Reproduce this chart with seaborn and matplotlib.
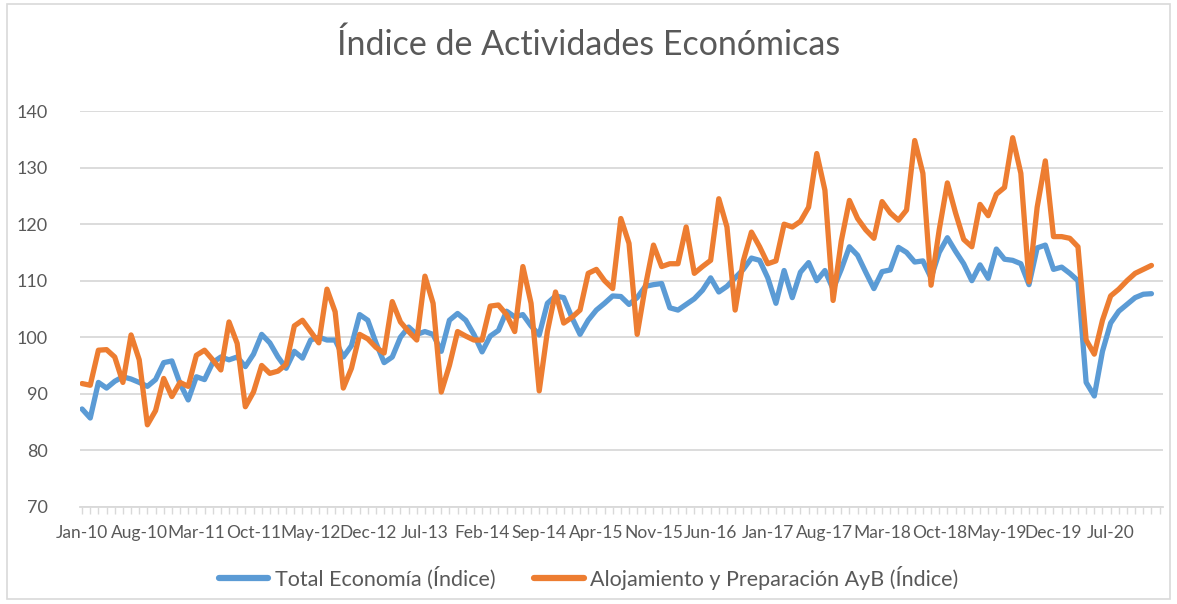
import numpy as np
import pandas as pd
import matplotlib
matplotlib.use("Agg")
import matplotlib.pyplot as plt
import seaborn as sns

# DATA (monthly, Jan-10 .. Dec-20)
meses = pd.date_range("2010-01-01", periods=132, freq="MS")

total_economia = [
    87.3, 85.7, 92.0, 91.0, 92.2, 93.0, 92.6, 92.0, 91.3, 92.5, 95.5, 95.8,
    91.8, 88.9, 93.0, 92.5, 95.5, 96.5, 96.0, 96.5, 94.8, 97.0, 100.5, 99.0,
    96.5, 94.5, 97.5, 96.3, 99.5, 100.0, 99.5, 99.5, 96.5, 98.5, 104.0, 103.0,
    99.0, 95.5, 96.5, 100.0, 101.8, 100.5, 101.0, 100.5, 97.5, 103.0, 104.2, 103.0,
    100.5, 97.4, 100.2, 101.2, 104.6, 103.6, 104.0, 102.0, 100.4, 106.0, 107.3, 107.0,
    103.5, 100.5, 103.0, 104.8, 106.0, 107.3, 107.2, 105.8, 107.0, 109.0, 109.3, 109.5,
    105.2, 104.8, 105.8, 106.8, 108.3, 110.5, 108.0, 109.0, 110.5, 112.0, 114.0, 113.6,
    110.5, 106.0, 111.8, 107.0, 111.5, 113.2, 110.0, 111.8, 108.5, 112.0, 116.0, 114.5,
    111.5, 108.6, 111.6, 111.9, 115.9, 115.0, 113.3, 113.5, 110.5, 115.0, 117.6, 115.2,
    113.0, 110.0, 112.8, 110.4, 115.6, 113.8, 113.6, 113.0, 109.3, 115.8, 116.3, 112.0,
    112.4, 111.3, 110.0, 92.0, 89.6, 97.5, 102.5, 104.6, 105.8, 107.0, 107.6, 107.7,
]

alojamiento = [
    91.8, 91.5, 97.7, 97.8, 96.5, 92.0, 100.4, 96.0, 84.5, 87.0, 92.7, 89.5,
    92.0, 91.3, 96.8, 97.7, 96.0, 94.2, 102.7, 98.9, 87.7, 90.3, 95.0, 93.6,
    94.0, 95.2, 102.0, 103.0, 101.0, 99.0, 108.5, 104.5, 91.0, 94.5, 100.5, 99.7,
    98.2, 97.2, 106.3, 102.7, 101.0, 99.5, 110.8, 106.0, 90.3, 95.0, 101.0, 100.2,
    99.5, 99.5, 105.5, 105.7, 104.0, 101.0, 112.5, 106.0, 90.5, 101.0, 108.0, 102.5,
    103.5, 104.8, 111.3, 112.0, 110.0, 108.6, 121.0, 116.6, 100.5, 109.0, 116.3, 112.5,
    113.0, 113.0, 119.5, 111.3, 112.5, 113.6, 124.5, 119.5, 104.8, 113.5, 118.6, 116.0,
    113.0, 113.5, 120.0, 119.5, 120.5, 123.0, 132.5, 126.0, 106.5, 117.0, 124.2, 121.0,
    119.0, 117.5, 124.0, 122.0, 120.7, 122.5, 134.8, 129.0, 109.2, 119.0, 127.3, 122.0,
    117.3, 116.0, 123.5, 121.5, 125.3, 126.5, 135.3, 129.0, 109.8, 123.0, 131.2, 117.8,
    117.8, 117.5, 116.0, 99.5, 97.0, 103.0, 107.3, 108.5, 110.0, 111.3, 112.0, 112.7,
]

series = ["Total Economía (Índice)", "Alojamiento y Preparación AyB (Índice)"]
colores = ["#5B9BD5", "#ED7D31"]

df = pd.DataFrame({
    "idx": np.tile(np.arange(len(meses)), 2),
    "valor": total_economia + alojamiento,
    "serie": np.repeat(series, len(meses)),
})

# PLOT
sns.set_theme(style="white")
plt.rcParams["font.family"] = ["Lato", "DejaVu Sans"]

fig = plt.figure(figsize=(11.77, 6.04), dpi=100)
ax = fig.add_axes([0.068, 0.161, 0.920, 0.655])

sns.lineplot(data=df, x="idx", y="valor", hue="serie", hue_order=series,
             palette=colores, linewidth=3.8, ax=ax, legend=False)

ax.set_ylim(70, 140)
ax.set_xlim(-0.25, 132.4)
ax.set_yticks(range(70, 141, 10))
ax.yaxis.grid(True, color="#d9d9d9", linewidth=1.3)
ax.set_axisbelow(True)

tick_pos = list(range(0, len(meses), 7))
ax.set_xticks(tick_pos)
ax.set_xticklabels([meses[i].strftime("%b-%y") for i in tick_pos])
ax.set_xticks(np.arange(len(meses) + 1), minor=True)
ax.tick_params(axis="x", which="both", bottom=True, length=5, width=1,
               color="#d9d9d9", labelsize=12.5, labelcolor="#595959", pad=8)
ax.tick_params(axis="y", length=0, labelsize=13, labelcolor="#595959", pad=23)

for s in ["top", "right", "left"]:
    ax.spines[s].set_visible(False)
ax.spines["bottom"].set_color("#d9d9d9")
ax.spines["bottom"].set_linewidth(1.3)
ax.set_xlabel("")
ax.set_ylabel("")

fig.suptitle("Índice de Actividades Económicas", fontsize=24.5, color="#595959",
             y=0.952)

handles = [plt.Line2D([], [], color=c, linewidth=4.5) for c in colores]
fig.legend(handles, series, loc="center", bbox_to_anchor=(0.5, 0.043), ncol=2,
           frameon=False, fontsize=15.5, handlelength=2.3, columnspacing=1.8,
           handletextpad=0.3, labelcolor="#595959")

fig.patches.append(plt.Rectangle((0.006, 0.008), 0.988, 0.985, fill=False,
                                 edgecolor="#d9d9d9", linewidth=1.2,
                                 transform=fig.transFigure))

plt.savefig("out.png", dpi=100)
